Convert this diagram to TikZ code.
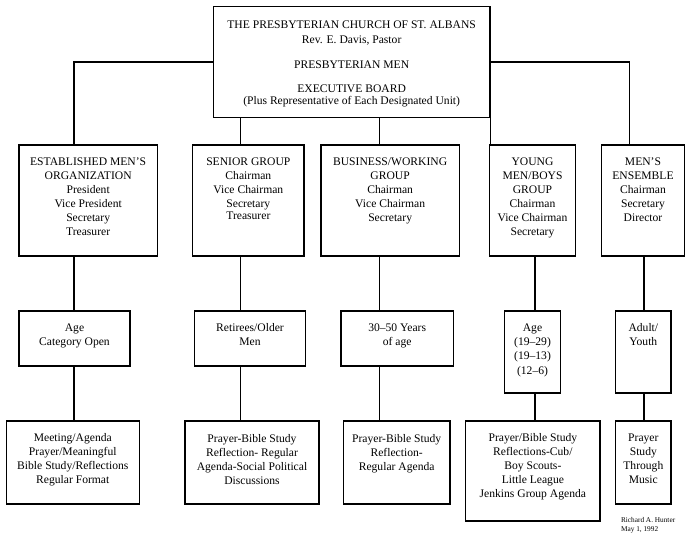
\documentclass[tikz,border=0pt]{standalone}
\usepackage{fontspec}
\setmainfont{Liberation Serif}
\usetikzlibrary{positioning}

\begin{document}
\begin{tikzpicture}[x=1pt, y=-1pt, line width=1.1pt,
    box/.style 2 args={draw, minimum width=#1, minimum height=#2, inner sep=0pt},
    lbl/.style={align=center, inner sep=0pt, font=\fontsize{11.6pt}{14pt}\selectfont},
    sig/.style={align=left, inner sep=0pt, anchor=north west, font=\fontsize{7.3pt}{9.3pt}\selectfont}]
        \useasboundingbox (0,0) rectangle (685,535);

        % board
        \node[box={276.7pt}{110.6pt}] (top) at (351.65, 62) {};
        \node[lbl, below=14.5pt of top.north] (top-t) {THE PRESBYTERIAN CHURCH OF ST. ALBANS\\[1pt]
            Rev. E. Davis, Pastor\\[10.5pt]
            PRESBYTERIAN MEN\\[10.5pt]
            EXECUTIVE BOARD\\[-2pt]
            (Plus Representative of Each Designated Unit)};

        % groups
        \node[box={138.3pt}{111pt}] (est) at (88.15, 200.5) {};
        \node[box={111.3pt}{111pt}] (sen) at (248.35, 200.5) {};
        \node[box={138.3pt}{111pt}] (bus) at (390.15, 200.5) {};
        \node[box={86.4pt}{111pt}] (yng) at (532.5, 200.5) {};
        \node[box={82.6pt}{111pt}] (ens) at (643, 200.5) {};

        \node[lbl, below=12.8pt of est.north] (est-t) {ESTABLISHED MEN'S\\ORGANIZATION\\President\\Vice President\\Secretary\\Treasurer};
        \node[lbl, below=12.8pt of sen.north] (sen-t) {SENIOR GROUP\\Chairman\\Vice Chairman\\Secretary\\[-2pt]Treasurer};
        \node[lbl, below=12.8pt of bus.north] (bus-t) {BUSINESS/WORKING\\GROUP\\Chairman\\Vice Chairman\\Secretary};
        \node[lbl, below=12.8pt of yng.north] (yng-t) {YOUNG\\MEN/BOYS\\GROUP\\Chairman\\Vice Chairman\\Secretary};
        \node[lbl, below=12.8pt of ens.north] (ens-t) {MEN'S\\ENSEMBLE\\Chairman\\Secretary\\Director};

        % ages
        \node[box={111pt}{55pt}] (age) at (74.5, 338.5) {};
        \node[box={111.4pt}{55pt}] (ret) at (250, 338.5) {};
        \node[box={112.3pt}{55pt}] (yrs) at (397.15, 338.5) {};
        \node[box={56.4pt}{82pt}] (ages) at (532.5, 352) {};
        \node[box={55.3pt}{82pt}] (adult) at (643.35, 352) {};

        \node[lbl, below=12.5pt of age.north] (age-t) {Age\\Category Open};
        \node[lbl, below=12.5pt of ret.north] (ret-t) {Retirees/Older\\Men};
        \node[lbl, below=12.5pt of yrs.north] (yrs-t) {30--50 Years\\of age};
        \node[lbl, below=12.5pt of ages.north] (ages-t) {Age\\(19--29)\\(19--13)\\[1.5pt](12--6)};
        \node[lbl, below=12.5pt of adult.north] (adult-t) {Adult/\\Youth};

        % programs
        \node[box={133pt}{83pt}] (mtg) at (72.8, 462.5) {};
        \node[box={134pt}{83pt}] (pbs) at (252, 462.5) {};
        \node[box={106.7pt}{83pt}] (pbr) at (396.65, 462.5) {};
        \node[box={134.3pt}{100pt}] (scout) at (532.85, 471) {};
        \node[box={55.3pt}{83pt}] (music) at (643.35, 462.5) {};

        \node[lbl, below=12.7pt of mtg.north] (mtg-t) {Meeting/Agenda\\Prayer/Meaningful\\Bible Study/Reflections\\Regular Format};
        \node[lbl, below=13.5pt of pbs.north] (pbs-t) {Prayer-Bible Study\\Reflection- Regular\\Agenda-Social Political\\Discussions};
        \node[lbl, below=13.5pt of pbr.north] (pbr-t) {Prayer-Bible Study\\Reflection-\\Regular Agenda};
        \node[lbl, below=12.7pt of scout.north] (scout-t) {Prayer/Bible Study\\Reflections-Cub/\\Boy Scouts-\\Little League\\Jenkins Group Agenda};
        \node[lbl, below=12.7pt of music.north] (music-t) {Prayer\\Study\\Through\\Music};

        \node[sig] (sign) at (620.5, 516.5) {Richard A. Hunter\\May 1, 1992};

        % connector columns
        \coordinate (c1) at (74, 0);
        \coordinate (c2) at (240.7, 0);
        \coordinate (c3) at (379.3, 0);
        \coordinate (c4) at (535, 0);
        \coordinate (c5) at (644, 0);
        \coordinate (c6) at (629.3, 0);

        \draw (top.west) -| (c1 |- est.north)
            (top.east) -| (c6 |- ens.north)
            (c2 |- top.south) -- (c2 |- sen.north)
            (c3 |- top.south) -- (c3 |- bus.north)
            (top.south east) -- (top.south east |- yng.north);
        \draw (c1 |- est.south) -- (c1 |- age.north)
            (c1 |- age.south) -- (c1 |- mtg.north)
            (c2 |- sen.south) -- (c2 |- ret.north)
            (c2 |- ret.south) -- (c2 |- pbs.north)
            (c3 |- bus.south) -- (c3 |- yrs.north)
            (c3 |- yrs.south) -- (c3 |- pbr.north)
            (c4 |- yng.south) -- (c4 |- ages.north)
            (c4 |- ages.south) -- (c4 |- scout.north)
            (c5 |- ens.south) -- (c5 |- adult.north)
            (c5 |- adult.south) -- (c5 |- music.north);
    \end{tikzpicture}
\end{document}
